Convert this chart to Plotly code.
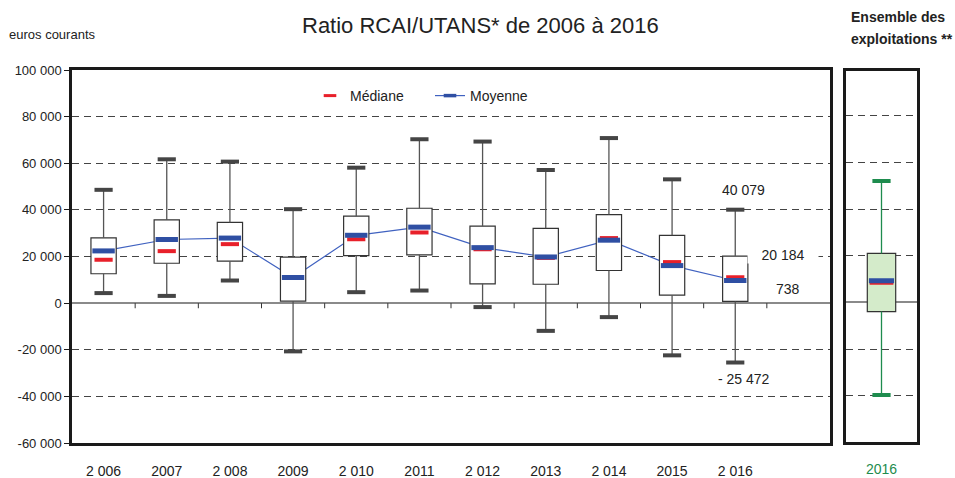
import plotly.graph_objects as go

# ---------------- data ----------------
years = ["2 006", "2007", "2 008", "2009", "2 010", "2011", "2 012", "2013", "2 014", "2015", "2 016"]
upper = [48600, 61700, 60700, 40300, 58100, 70300, 69300, 57100, 70800, 53100, 40079]
q3 = [28000, 35700, 34600, 19700, 37300, 40700, 33000, 32100, 38000, 29100, 20184]
q1 = [12600, 17100, 18000, 900, 20400, 20700, 8300, 8100, 14000, 3400, 738]
lower = [4300, 3100, 9700, -20700, 4700, 5400, -1700, -11900, -6000, -22400, -25472]
median = [18600, 22300, 25300, 10800, 27400, 30300, 23100, 19400, 27900, 17600, 11100]
mean = [22400, 27300, 27900, 11000, 29100, 32600, 23800, 19800, 27000, 16100, 9700]

all_label = ["2016"]
all_upper = [52100]
all_q3 = [21000]
all_q1 = [-3900]
all_lower = [-39700]
all_median = [8400]
all_mean = [9300]

ytick_vals = [100000, 80000, 60000, 40000, 20000, 0, -20000, -40000, -60000]
ytick_text = ["100 000", "80 000", "60 000", "40 000", "20 000", "0", "-20 000", "-40 000", "-60 000"]

# ---------------- styles ----------------
FONT = "Liberation Sans, Arial, sans-serif"
TXT = "#222222"
RED = "#e8202a"
BLUE = "#2f4fa3"
BLUE_LINE = "#4062c0"
CAP = "#454545"
WHISK = "#555555"
BOXLINE = "#333333"
GREEN = "#1e8c4e"
GREENFILL = "#d4ebca"
FRAME = "#1a1a1a"
GRID = "#444444"

W, H = 955, 478
xs = list(range(len(years)))


def px_x(p):
    return p / W


def px_y(p):
    return 1 - p / H


def whisker_xy(x, lo, q_lo, q_hi, hi):
    X, Y = [], []
    for i in range(len(x)):
        X += [x[i], x[i], None, x[i], x[i], None]
        Y += [q_hi[i], hi[i], None, q_lo[i], lo[i], None]
    return X, Y


fig = go.Figure()

# legend entries (small symbols as in the reference)
fig.add_trace(go.Scatter(
    x=[None], y=[None], mode="markers", name="Médiane",
    marker=dict(symbol="line-ew", size=9, color=RED, line=dict(width=3, color=RED)),
    xaxis="x3", yaxis="y3", hoverinfo="skip"))
fig.add_trace(go.Scatter(
    x=[None], y=[None], mode="lines+markers", name="Moyenne",
    line=dict(color=BLUE_LINE, width=1.2),
    marker=dict(symbol="line-ew", size=9, color=BLUE, line=dict(width=3.5, color=BLUE)),
    xaxis="x3", yaxis="y3", hoverinfo="skip"))

# mean line on the base subplot (behind the boxes)
fig.add_trace(go.Scatter(
    x=xs, y=mean, mode="lines", line=dict(color=BLUE_LINE, width=1.2),
    xaxis="x", yaxis="y", showlegend=False, hoverinfo="skip"))

# boxes (overlay subplot so the mean line passes behind them)
fig.add_trace(go.Bar(
    x=xs, y=[a - b for a, b in zip(q3, q1)], base=q1, width=0.4,
    marker=dict(color="white", line=dict(color=BOXLINE, width=1.2)),
    xaxis="x3", yaxis="y3", showlegend=False, hoverinfo="skip"))
wx, wy = whisker_xy(xs, lower, q1, q3, upper)
fig.add_trace(go.Scatter(
    x=wx, y=wy, mode="lines", line=dict(color=WHISK, width=1.3),
    xaxis="x3", yaxis="y3", showlegend=False, hoverinfo="skip"))
fig.add_trace(go.Scatter(
    x=xs + xs, y=upper + lower, mode="markers",
    marker=dict(symbol="line-ew", size=13, color=CAP, line=dict(width=4, color=CAP)),
    xaxis="x3", yaxis="y3", showlegend=False, hoverinfo="skip"))
fig.add_trace(go.Scatter(
    x=xs, y=median, mode="markers",
    marker=dict(symbol="line-ew", size=13, color=RED, line=dict(width=4, color=RED)),
    xaxis="x3", yaxis="y3", showlegend=False, hoverinfo="skip"))
fig.add_trace(go.Scatter(
    x=xs, y=mean, mode="markers",
    marker=dict(symbol="line-ew", size=16, color=BLUE, line=dict(width=5, color=BLUE)),
    xaxis="x3", yaxis="y3", showlegend=False, hoverinfo="skip"))

# right panel: all farms
ax = [0]
fig.add_trace(go.Bar(
    x=ax, y=[a - b for a, b in zip(all_q3, all_q1)], base=all_q1, width=0.4,
    marker=dict(color=GREENFILL, line=dict(color=BOXLINE, width=1.2)),
    xaxis="x2", yaxis="y2", showlegend=False, hoverinfo="skip"))
gx, gy = whisker_xy(ax, all_lower, all_q1, all_q3, all_upper)
fig.add_trace(go.Scatter(
    x=gx, y=gy, mode="lines", line=dict(color=GREEN, width=1.3),
    xaxis="x2", yaxis="y2", showlegend=False, hoverinfo="skip"))
fig.add_trace(go.Scatter(
    x=ax + ax, y=all_upper + all_lower, mode="markers",
    marker=dict(symbol="line-ew", size=13, color=GREEN, line=dict(width=4, color=GREEN)),
    xaxis="x2", yaxis="y2", showlegend=False, hoverinfo="skip"))
fig.add_trace(go.Scatter(
    x=ax, y=all_median, mode="markers",
    marker=dict(symbol="line-ew", size=17, color=RED, line=dict(width=4, color=RED)),
    xaxis="x2", yaxis="y2", showlegend=False, hoverinfo="skip"))
fig.add_trace(go.Scatter(
    x=ax, y=all_mean, mode="markers",
    marker=dict(symbol="line-ew", size=18, color=BLUE, line=dict(width=5, color=BLUE)),
    xaxis="x2", yaxis="y2", showlegend=False, hoverinfo="skip"))

main_dom_x = [px_x(72), px_x(830)]
main_dom_y = [px_y(443), px_y(70)]
yr = [-60000, 100000]
xr = [-0.5, len(years) + 0.5]

grid_common = dict(showgrid=True, gridcolor=GRID, gridwidth=1, griddash="7px,5px",
                   zeroline=True, zerolinecolor="#8a8a8a", zerolinewidth=1.6)

fig.update_layout(
    width=W, height=H,
    margin=dict(l=0, r=0, t=0, b=0, pad=0),
    paper_bgcolor="white", plot_bgcolor="white",
    font=dict(family=FONT, color=TXT, size=13),
    barmode="overlay",
    showlegend=True,
    legend=dict(orientation="h", x=px_x(310), xanchor="left", y=px_y(96), yanchor="middle",
                font=dict(size=14, color=TXT), bgcolor="rgba(0,0,0,0)",
                traceorder="normal", entrywidth=75, entrywidthmode="pixels"),
    xaxis=dict(domain=main_dom_x, range=xr, anchor="y", automargin=False,
               tickmode="array", tickvals=xs, ticktext=years, ticks="",
               tickfont=dict(size=14, color=TXT), ticklabelstandoff=13,
               showgrid=False, zeroline=False,
               showline=True, mirror=True, linecolor=FRAME, linewidth=2.5),
    yaxis=dict(domain=main_dom_y, range=yr, anchor="x", automargin=False,
               tickmode="array", tickvals=ytick_vals, ticktext=ytick_text,
               ticks="outside", ticklen=5, tickcolor=FRAME, tickwidth=1,
               tickfont=dict(size=13, color=TXT),
               showline=True, mirror=True, linecolor=FRAME, linewidth=2.5,
               **grid_common),
    xaxis3=dict(overlaying="x", anchor="y3", range=xr, visible=False, automargin=False),
    yaxis3=dict(overlaying="y", anchor="x3", range=yr, visible=False, automargin=False),
    xaxis2=dict(domain=[px_x(846), px_x(917)], range=[-0.5, 0.5], anchor="y2", automargin=False,
                tickmode="array", tickvals=ax, ticktext=all_label, ticks="",
                tickfont=dict(size=14, color=GREEN), ticklabelstandoff=13,
                showgrid=False, zeroline=False,
                showline=True, mirror=True, linecolor=FRAME, linewidth=2.5),
    yaxis2=dict(domain=[px_y(441.5), px_y(71)], range=[-59600, 99200], anchor="x2", automargin=False,
                tickmode="array", tickvals=ytick_vals, showticklabels=False, ticks="",
                showline=True, mirror=True, linecolor=FRAME, linewidth=2.5,
                **grid_common),
)

# small ticks on the zero line, between categories
for k in xs:
    fig.add_shape(type="line", xref="x", yref="y", x0=k + 0.5, x1=k + 0.5, y0=0, y1=-2200,
                  line=dict(color="#333333", width=1))

ann = []
ann.append(dict(text="Ratio RCAI/UTANS* de 2006 à 2016", xref="paper", yref="paper",
                x=px_x(480.5), y=px_y(25.5), xanchor="center", yanchor="middle",
                showarrow=False, font=dict(size=22, color=TXT)))
ann.append(dict(text="euros courants", xref="paper", yref="paper",
                x=px_x(7), y=px_y(34.5), xanchor="left", yanchor="middle",
                showarrow=False, font=dict(size=13, color=TXT)))
ann.append(dict(text="<b>Ensemble des</b>", xref="paper", yref="paper",
                x=px_x(898), y=px_y(17), xanchor="center", yanchor="middle",
                showarrow=False, font=dict(size=14, color=TXT)))
ann.append(dict(text="<b>exploitations **</b>", xref="paper", yref="paper",
                x=px_x(902), y=px_y(39), xanchor="center", yanchor="middle",
                showarrow=False, font=dict(size=14, color=TXT)))

last = len(years) - 1
ann.append(dict(text="40 079", x=last, y=upper[last], xref="x", yref="y",
                xshift=8, yshift=20, showarrow=False, font=dict(size=14, color=TXT)))
ann.append(dict(text="20 184", x=last, y=q3[last], xref="x", yref="y",
                xshift=48, yshift=1, showarrow=False, font=dict(size=14, color=TXT),
                bgcolor="white", width=70, borderpad=0))
ann.append(dict(text="738", x=last, y=q1[last], xref="x", yref="y",
                xshift=53, yshift=12.5, showarrow=False, font=dict(size=14, color=TXT)))
ann.append(dict(text="- 25 472", x=last, y=lower[last], xref="x", yref="y",
                xshift=9, yshift=-16, showarrow=False, font=dict(size=14, color=TXT)))

fig.update_layout(annotations=ann)

fig.write_html("out.html", config={"displayModeBar": False},
               post_script="document.body.style.margin='0px';")
